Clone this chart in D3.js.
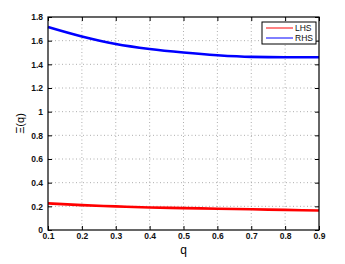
<!DOCTYPE html>
<html>
<head>
<meta charset="utf-8">
<script src="https://cdn.jsdelivr.net/npm/d3@7.9.0/dist/d3.min.js"></script>
<style>
  body { margin: 0; background: #fff; }
  text { font-family: "Liberation Sans", Arial, sans-serif; }
</style>
</head>
<body>
<div id="chart"></div>
<script>
const qValues = [0.1, 0.2, 0.3, 0.4, 0.5, 0.6, 0.7, 0.8, 0.9];
const lhsValues = [0.225, 0.21, 0.2, 0.19, 0.185, 0.18, 0.175, 0.17, 0.165];
const rhsValues = [1.715, 1.635, 1.572, 1.53, 1.5, 1.477, 1.463, 1.46, 1.46];
const xTicks = [0.1, 0.2, 0.3, 0.4, 0.5, 0.6, 0.7, 0.8, 0.9];
const yTicks = [0, 0.2, 0.4, 0.6, 0.8, 1, 1.2, 1.4, 1.6, 1.8];
const seriesNames = ["LHS", "RHS"];
const seriesColors = ["#ff0000", "#0000ff"];

const W = 345, H = 264;
const margin = { top: 17, right: 26, bottom: 34, left: 48 };
const width = W - margin.left - margin.right;
const height = H - margin.top - margin.bottom;

const svg = d3.select("#chart").append("svg")
    .attr("width", W)
    .attr("height", H);

const g = svg.append("g")
    .attr("transform", `translate(${margin.left},${margin.top})`);

const x = d3.scaleLinear().domain([0.1, 0.9]).range([0, width]);
const y = d3.scaleLinear().domain([0, 1.8]).range([height, 0]);

// grid
g.selectAll(".vgrid").data(xTicks.slice(1, -1)).enter().append("line")
    .attr("x1", d => x(d)).attr("x2", d => x(d))
    .attr("y1", 0).attr("y2", height)
    .attr("stroke", "#999").attr("stroke-width", 0.8)
    .attr("stroke-dasharray", "1,2.5");
g.selectAll(".hgrid").data(yTicks.slice(1, -1)).enter().append("line")
    .attr("y1", d => y(d)).attr("y2", d => y(d))
    .attr("x1", 0).attr("x2", width)
    .attr("stroke", "#999").attr("stroke-width", 0.8)
    .attr("stroke-dasharray", "1,2.5");

// axes (ticks inward)
const fmt = d => d3.format("~g")(d);
const axisStyle = sel => {
    sel.select(".domain").remove();
    sel.selectAll("line").attr("stroke", "#000");
    sel.selectAll("text").style("font-size", "8.5px").style("font-weight", "bold").attr("fill", "#111");
};
g.append("g").attr("transform", `translate(0,${height})`)
    .call(d3.axisBottom(x).tickValues(xTicks).tickFormat(fmt).tickSizeInner(-4).tickPadding(3))
    .call(axisStyle);
g.append("g")
    .call(d3.axisTop(x).tickValues(xTicks).tickFormat("").tickSizeInner(-4))
    .call(axisStyle);
g.append("g")
    .call(d3.axisLeft(y).tickValues(yTicks).tickFormat(fmt).tickSizeInner(-4).tickPadding(5))
    .call(axisStyle);
g.append("g").attr("transform", `translate(${width},0)`)
    .call(d3.axisRight(y).tickValues(yTicks).tickFormat("").tickSizeInner(-4))
    .call(axisStyle);

// lines
const line = d3.line()
    .x((d, i) => x(qValues[i]))
    .y(d => y(d))
    .curve(d3.curveMonotoneX);

[lhsValues, rhsValues].forEach((vals, k) => {
    g.append("path")
        .datum(vals)
        .attr("fill", "none")
        .attr("stroke", seriesColors[k])
        .attr("stroke-width", 2.6)
        .attr("d", line);
});

// frame
g.append("rect")
    .attr("width", width).attr("height", height)
    .attr("fill", "none").attr("stroke", "#000").attr("stroke-width", 1.2);

// legend
const legend = g.append("g").attr("transform", `translate(${width - 57},5)`);
legend.append("rect")
    .attr("width", 54).attr("height", 22)
    .attr("fill", "#fff").attr("stroke", "#000").attr("stroke-width", 1);
seriesNames.forEach((name, i) => {
    legend.append("line")
        .attr("x1", 4).attr("x2", 31)
        .attr("y1", 6 + i * 10).attr("y2", 6 + i * 10)
        .attr("stroke", seriesColors[i])
        .attr("stroke-opacity", i === 0 ? 0.55 : 1)
        .attr("stroke-width", i === 0 ? 1.8 : 1);
    legend.append("text")
        .attr("x", 33).attr("y", 6 + i * 10)
        .attr("dy", "0.35em")
        .style("font-size", "8.5px")
        .attr("fill", "#111")
        .text(name);
});

// axis labels
svg.append("text")
    .attr("x", margin.left + width / 2)
    .attr("y", 254)
    .attr("text-anchor", "middle")
    .style("font-size", "12px")
    .text("q");
svg.append("text")
    .attr("transform", `translate(24,${margin.top + height / 2}) rotate(-90)`)
    .attr("text-anchor", "middle")
    .style("font-size", "11px")
    .text("Ξ(q)");
</script>
</body>
</html>
